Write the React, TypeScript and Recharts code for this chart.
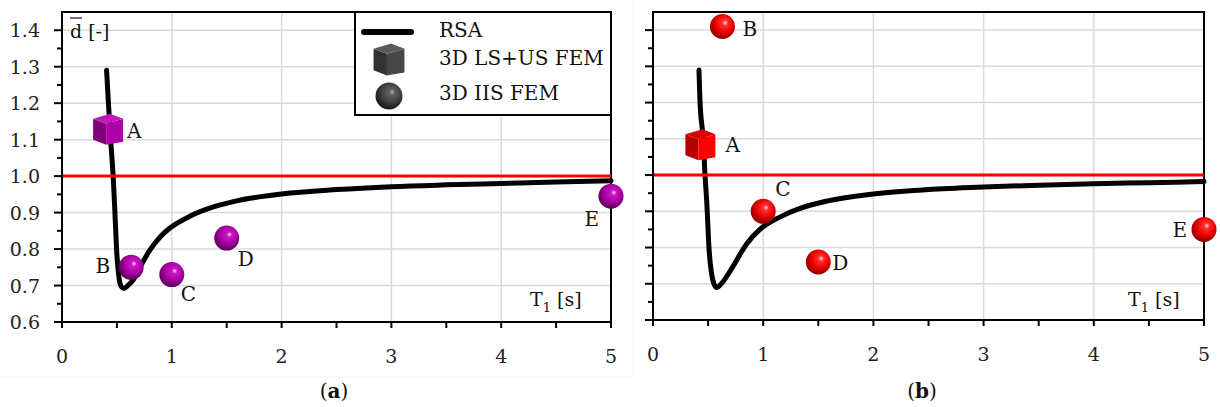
import React from "react";
import {
  CartesianGrid,
  ComposedChart,
  Line,
  ReferenceArea,
  ReferenceLine,
  Scatter,
  XAxis,
  YAxis,
} from "recharts";

// RSA curves
const rsaPeriodsA = [0.406, 0.421, 0.443, 0.466, 0.482, 0.497, 0.518, 0.54, 0.564, 0.6, 0.648, 0.71, 0.8, 0.9, 0.98, 1.165, 1.345, 1.59, 2.0, 2.5, 3.0, 3.5, 4.0, 4.5, 5.0];
const rsaValuesA = [1.29, 1.21, 1.1, 1.0, 0.9, 0.8, 0.724, 0.697, 0.692, 0.7, 0.715, 0.75, 0.797, 0.835, 0.857, 0.89, 0.912, 0.932, 0.951, 0.963, 0.971, 0.976, 0.98, 0.984, 0.987];
const rsaPeriodsB = [0.417, 0.426, 0.456, 0.472, 0.487, 0.51, 0.553, 0.578, 0.62, 0.7, 0.85, 0.97, 1.15, 1.334, 1.575, 2.0, 2.5, 3.0, 3.5, 4.0, 4.5, 5.0];
const rsaValuesB = [1.29, 1.207, 1.097, 1.0, 0.93, 0.79, 0.7, 0.69, 0.7, 0.735, 0.81, 0.85, 0.884, 0.908, 0.928, 0.948, 0.96, 0.967, 0.972, 0.976, 0.979, 0.982];

// FEM models A..E
const pointNames = ["A", "B", "C", "D", "E"];
const pointModels = ["LS+US", "IIS", "IIS", "IIS", "IIS"];
const femPeriodsA = [0.42, 0.63, 1.0, 1.5, 5.0];
const femValuesA = [1.13, 0.75, 0.73, 0.83, 0.945];
const femPeriodsB = [0.43, 0.63, 1.0, 1.5, 5.0];
const femValuesB = [1.085, 1.41, 0.9, 0.76, 0.85];

const xTicks = [0, 0.5, 1, 1.5, 2, 2.5, 3, 3.5, 4, 4.5, 5];
const xGrid = [1, 2, 3, 4];
const yTicks = [0.6, 0.65, 0.7, 0.75, 0.8, 0.85, 0.9, 0.95, 1.0, 1.05, 1.1, 1.15, 1.2, 1.25, 1.3, 1.35, 1.4, 1.45];
const yGrid = [0.7, 0.8, 0.9, 1.0, 1.1, 1.2, 1.3, 1.4];

const legendItems = ["RSA", "3D LS+US FEM", "3D IIS FEM"];

const FONT = "'DejaVu Serif', 'Liberation Serif', serif";

const labelOffsetsA: Record<string, [number, number, "start" | "end"]> = {
  A: [19, 9, "start"],
  B: [-21, 6, "end"],
  C: [9, 26, "start"],
  D: [11, 28, "start"],
  E: [-12, 30, "end"],
};
const labelOffsetsB: Record<string, [number, number, "start" | "end"]> = {
  A: [25, 8, "start"],
  B: [20, 10, "start"],
  C: [12, -15, "start"],
  D: [14, 8, "start"],
  E: [-17, 8, "end"],
};

const tones = {
  magenta: { hi: "#ffd6ff", mid: "#c818c0", body: "#a800a2", edge: "#560052", top: "#c414bc", left: "#80007a", front: "#b000aa" },
  red: { hi: "#ffe0e0", mid: "#ff3030", body: "#e80000", edge: "#8a0000", top: "#d80000", left: "#b80000", front: "#ff0000" },
  gray: { hi: "#b0b0b0", mid: "#606060", body: "#404040", edge: "#151515", top: "#5a5a5a", left: "#333333", front: "#474747" },
};
type Tone = keyof typeof tones;

function SphereGlyph({ cx, cy, r, tone }: { cx: number; cy: number; r: number; tone: Tone }) {
  const c = tones[tone];
  const id = `sph-${tone}`;
  return (
    <g>
      <defs>
        <radialGradient id={id} cx="55%" cy="40%" r="60%" fx="62%" fy="35%">
          <stop offset="0%" stopColor={c.hi} />
          <stop offset="18%" stopColor={c.mid} />
          <stop offset="60%" stopColor={c.body} />
          <stop offset="100%" stopColor={c.edge} />
        </radialGradient>
      </defs>
      <circle cx={cx} cy={cy} r={r} fill={`url(#${id})`} />
    </g>
  );
}

function CubeGlyph({ cx, cy, s, tone }: { cx: number; cy: number; s: number; tone: Tone }) {
  const c = tones[tone];
  const p = (dx: number, dy: number) => `${cx + dx * s},${cy + dy * s}`;
  return (
    <g>
      <polygon points={[p(-15, -10), p(-2, -5), p(-2, 16), p(-15, 11)].join(" ")} fill={c.left} />
      <polygon points={[p(-2, -5), p(15, -10), p(15, 13), p(-2, 16)].join(" ")} fill={c.front} />
      <polygon points={[p(-15, -10), p(2, -15), p(15, -10), p(-2, -5)].join(" ")} fill={c.top} />
    </g>
  );
}

function makeShape(tone: Tone, kind: "cube" | "sphere", offsets: typeof labelOffsetsA) {
  return (props: any) => {
    const { cx, cy, payload } = props;
    if (cx == null || cy == null) return <g />;
    const [dx, dy, anchor] = offsets[payload.name];
    return (
      <g>
        {kind === "cube" ? <CubeGlyph cx={cx} cy={cy} s={1} tone={tone} /> : <SphereGlyph cx={cx} cy={cy} r={12.5} tone={tone} />}
        <text x={cx + dx} y={cy + dy} textAnchor={anchor} fontFamily={FONT} fontSize={20} fill="#111">
          {payload.name}
        </text>
      </g>
    );
  };
}

const XTick = (props: any) => {
  const { x, y, payload } = props;
  const v = payload.value;
  return (
    <g>
      <line x1={x} x2={x} y1={y} y2={y + 6} stroke="#000" strokeWidth={2} />
      {Number.isInteger(v) && (
        <text x={x} y={y + 41} textAnchor="middle" fontFamily={FONT} fontSize={19} fill="#222">
          {v}
        </text>
      )}
    </g>
  );
};

const makeYTick = (withLabels: boolean) => (props: any) => {
  const { x, y, payload } = props;
  const v = payload.value;
  if (v > 1.41) return <g />;
  const major = Math.abs(v * 10 - Math.round(v * 10)) < 1e-6;
  return (
    <g>
      <line x1={x - (major ? 8 : 5)} x2={x} y1={y} y2={y} stroke="#000" strokeWidth={2} />
      {withLabels && major && (
        <text x={x - 22} y={y + 7} textAnchor="end" fontFamily={FONT} fontSize={19} fill="#222">
          {v.toFixed(1)}
        </text>
      )}
    </g>
  );
};

function Panel({
  rsaT,
  rsaD,
  femT,
  femD,
  tone,
  offsets,
  width,
  yAxisWidth,
  xAxisHeight,
  marginRight,
  withLabels,
}: {
  rsaT: number[];
  rsaD: number[];
  femT: number[];
  femD: number[];
  tone: Tone;
  offsets: typeof labelOffsetsA;
  width: number;
  yAxisWidth: number;
  xAxisHeight: number;
  marginRight: number;
  withLabels: boolean;
}) {
  const rsa = rsaT.map((t, i) => ({ t, d: rsaD[i] }));
  const fem = femT.map((t, i) => ({ t, d: femD[i], name: pointNames[i], model: pointModels[i] }));
  const cubes = fem.filter((f) => f.model === "LS+US");
  const spheres = fem.filter((f) => f.model === "IIS");
  return (
    <ComposedChart width={width} height={377} margin={{ top: 12, right: marginRight, bottom: 0, left: 0 }}>
      <CartesianGrid stroke="#dadada" strokeWidth={1.5} horizontalValues={yGrid} verticalValues={xGrid} />
      <XAxis
        type="number"
        dataKey="t"
        domain={[0, 5]}
        ticks={xTicks}
        interval={0}
        height={xAxisHeight}
        tickSize={0}
        tickMargin={0}
        tickLine={false}
        tick={XTick}
        axisLine={{ stroke: "#000", strokeWidth: 2 }}
      />
      <YAxis
        type="number"
        dataKey="d"
        domain={[0.6, 1.45]}
        ticks={yTicks}
        interval={0}
        width={yAxisWidth}
        tickSize={0}
        tickMargin={0}
        tickLine={false}
        tick={makeYTick(withLabels)}
        axisLine={{ stroke: "#000", strokeWidth: 2 }}
      />
      <ReferenceArea x1={0} x2={5} y1={0.6} y2={1.45} fill="none" stroke="#000" strokeWidth={2} />
      <Line
        data={rsa}
        dataKey="d"
        type="monotone"
        stroke="#000"
        strokeWidth={5}
        strokeLinecap="round"
        dot={false}
        activeDot={false}
        isAnimationActive={false}
      />
      <ReferenceLine y={1} stroke="#ff0000" strokeWidth={3} />
      <Scatter data={spheres} dataKey="d" shape={makeShape(tone, "sphere", offsets)} isAnimationActive={false} />
      <Scatter data={cubes} dataKey="d" shape={makeShape(tone, "cube", offsets)} isAnimationActive={false} />
    </ComposedChart>
  );
}

function Overlay() {
  const txt = { fontFamily: FONT, fill: "#111" } as const;
  return (
    <svg width={1220} height={407} style={{ position: "absolute", left: 0, top: 0, pointerEvents: "none" }}>
      <line x1={633} x2={633} y1={0} y2={377} stroke="#efefef" strokeWidth={1} />
      <line x1={0} x2={633} y1={377} y2={377} stroke="#f2f2f2" strokeWidth={1} />
      {/* axis titles */}
      <line x1={70} x2={82} y1={18} y2={18} stroke="#222" strokeWidth={1.3} />
      <text x={70} y={38} fontSize={19} {...txt}>
        d [-]
      </text>
      {[530, 1128].map((x) => (
        <text key={x} x={x} y={306} fontSize={19} {...txt}>
          T<tspan fontSize={13} dy={6}>1</tspan>
          <tspan dy={-6}> [s]</tspan>
        </text>
      ))}
      {/* legend */}
      <rect x={355} y={12} width={256} height={103} fill="#fff" stroke="#000" strokeWidth={2} />
      <line x1={364} x2={411} y1={32} y2={32} stroke="#000" strokeWidth={6} strokeLinecap="round" />
      <CubeGlyph cx={389} cy={59} s={1.03} tone="gray" />
      <SphereGlyph cx={389} cy={96} r={13.5} tone="gray" />
      {legendItems.map((label, i) => (
        <text key={label} x={439} y={[37, 65, 100][i]} fontSize={20} {...txt}>
          {label}
        </text>
      ))}
      {/* captions */}
      <text x={334} y={398} textAnchor="middle" fontSize={20} {...txt}>
        (<tspan fontWeight="bold">a</tspan>)
      </text>
      <text x={922} y={398} textAnchor="middle" fontSize={20} {...txt}>
        (<tspan fontWeight="bold">b</tspan>)
      </text>
    </svg>
  );
}

export default function App() {
  return (
    <div style={{ position: "absolute", left: 0, top: 0, width: 1220, height: 407, background: "#fff", fontFamily: FONT }}>
      <div style={{ position: "absolute", left: 0, top: 0 }}>
        <Panel
          rsaT={rsaPeriodsA}
          rsaD={rsaValuesA}
          femT={femPeriodsA}
          femD={femValuesA}
          tone="magenta"
          offsets={labelOffsetsA}
          width={632}
          yAxisWidth={62}
          xAxisHeight={55}
          marginRight={21}
          withLabels
        />
      </div>
      <div style={{ position: "absolute", left: 632, top: 0 }}>
        <Panel
          rsaT={rsaPeriodsB}
          rsaD={rsaValuesB}
          femT={femPeriodsB}
          femD={femValuesB}
          tone="red"
          offsets={labelOffsetsB}
          width={588}
          yAxisWidth={21}
          xAxisHeight={57}
          marginRight={16}
          withLabels={false}
        />
      </div>
      <Overlay />
    </div>
  );
}
